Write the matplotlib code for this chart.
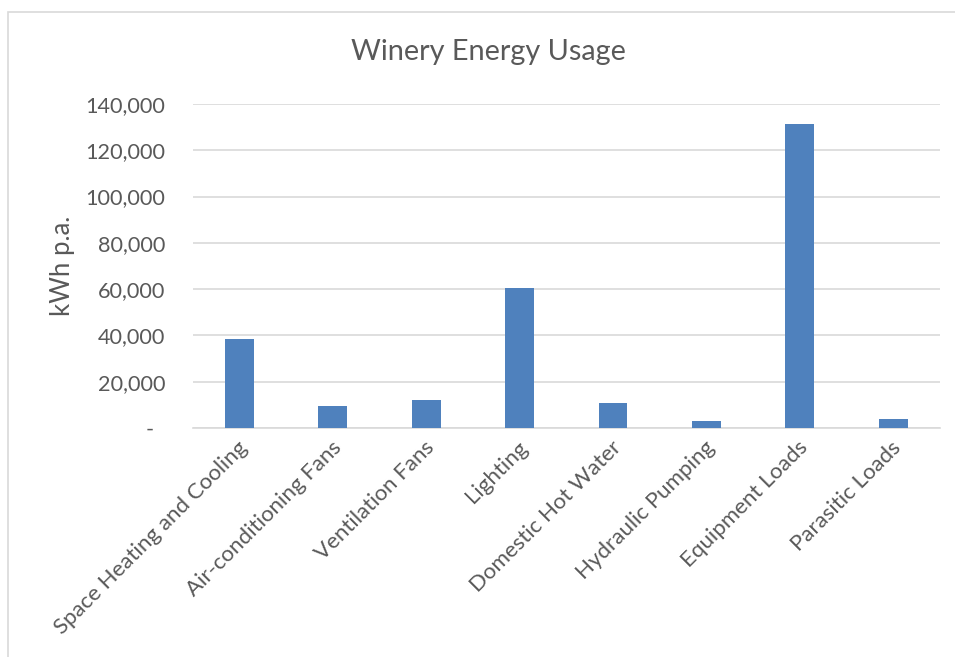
import matplotlib.pyplot as plt
from matplotlib.patches import Rectangle
from matplotlib.ticker import FuncFormatter
from matplotlib.transforms import ScaledTranslation

plt.rcParams['font.family'] = ['Lato', 'DejaVu Sans']

categories = ['Space Heating and Cooling', 'Air-conditioning Fans', 'Ventilation Fans',
              'Lighting', 'Domestic Hot Water', 'Hydraulic Pumping',
              'Equipment Loads', 'Parasitic Loads']
usage_kwh = [38500, 9500, 12000, 60500, 11000, 3000, 131500, 4000]
y_ticks = [0, 20000, 40000, 60000, 80000, 100000, 120000, 140000]

text_col = '#595959'
grid_col = '#d9d9d9'

fig = plt.figure(figsize=(9.55, 6.57), dpi=100)
ax = fig.add_axes([0.202, 0.3486, 0.782, 0.4931])

x = range(len(categories))
ax.bar(x, usage_kwh, width=0.31, color='#4f81bd', zorder=3)

ax.set_xlim(-0.5, len(categories) - 0.5)
ax.set_ylim(0, 140000)
ax.set_yticks(y_ticks)
ax.yaxis.set_major_formatter(FuncFormatter(lambda v, p: '-  ' if v == 0 else f'{int(v):,}'))
ax.grid(axis='y', color=grid_col, linewidth=1.2, zorder=0)

for s in ['top', 'right', 'left']:
    ax.spines[s].set_visible(False)
ax.spines['bottom'].set_color(grid_col)
ax.spines['bottom'].set_linewidth(1.2)

ax.tick_params(axis='both', length=0, colors=text_col)
ax.tick_params(axis='y', pad=20, labelsize=15.6)
ax.tick_params(axis='x', pad=12, labelsize=16)
ax.set_xticks(list(x))
ax.set_xticklabels(categories, rotation=45, ha='right', va='center', rotation_mode='anchor')
shift = ScaledTranslation(5 / 100, 0, fig.dpi_scale_trans)
for lab in ax.get_xticklabels():
    lab.set_transform(lab.get_transform() + shift)

ax.set_ylabel('kWh p.a.', color=text_col, fontsize=18.5, labelpad=7)
fig.text(0.511, 0.921, 'Winery Energy Usage', ha='center', va='center',
         color=text_col, fontsize=20.8)

fig.patches.append(Rectangle((8 / 955, -0.1), 1.2, 1.1 - 12 / 657, transform=fig.transFigure,
                             fill=False, edgecolor=grid_col, linewidth=1.2))

fig.savefig('out.png', dpi=100)
